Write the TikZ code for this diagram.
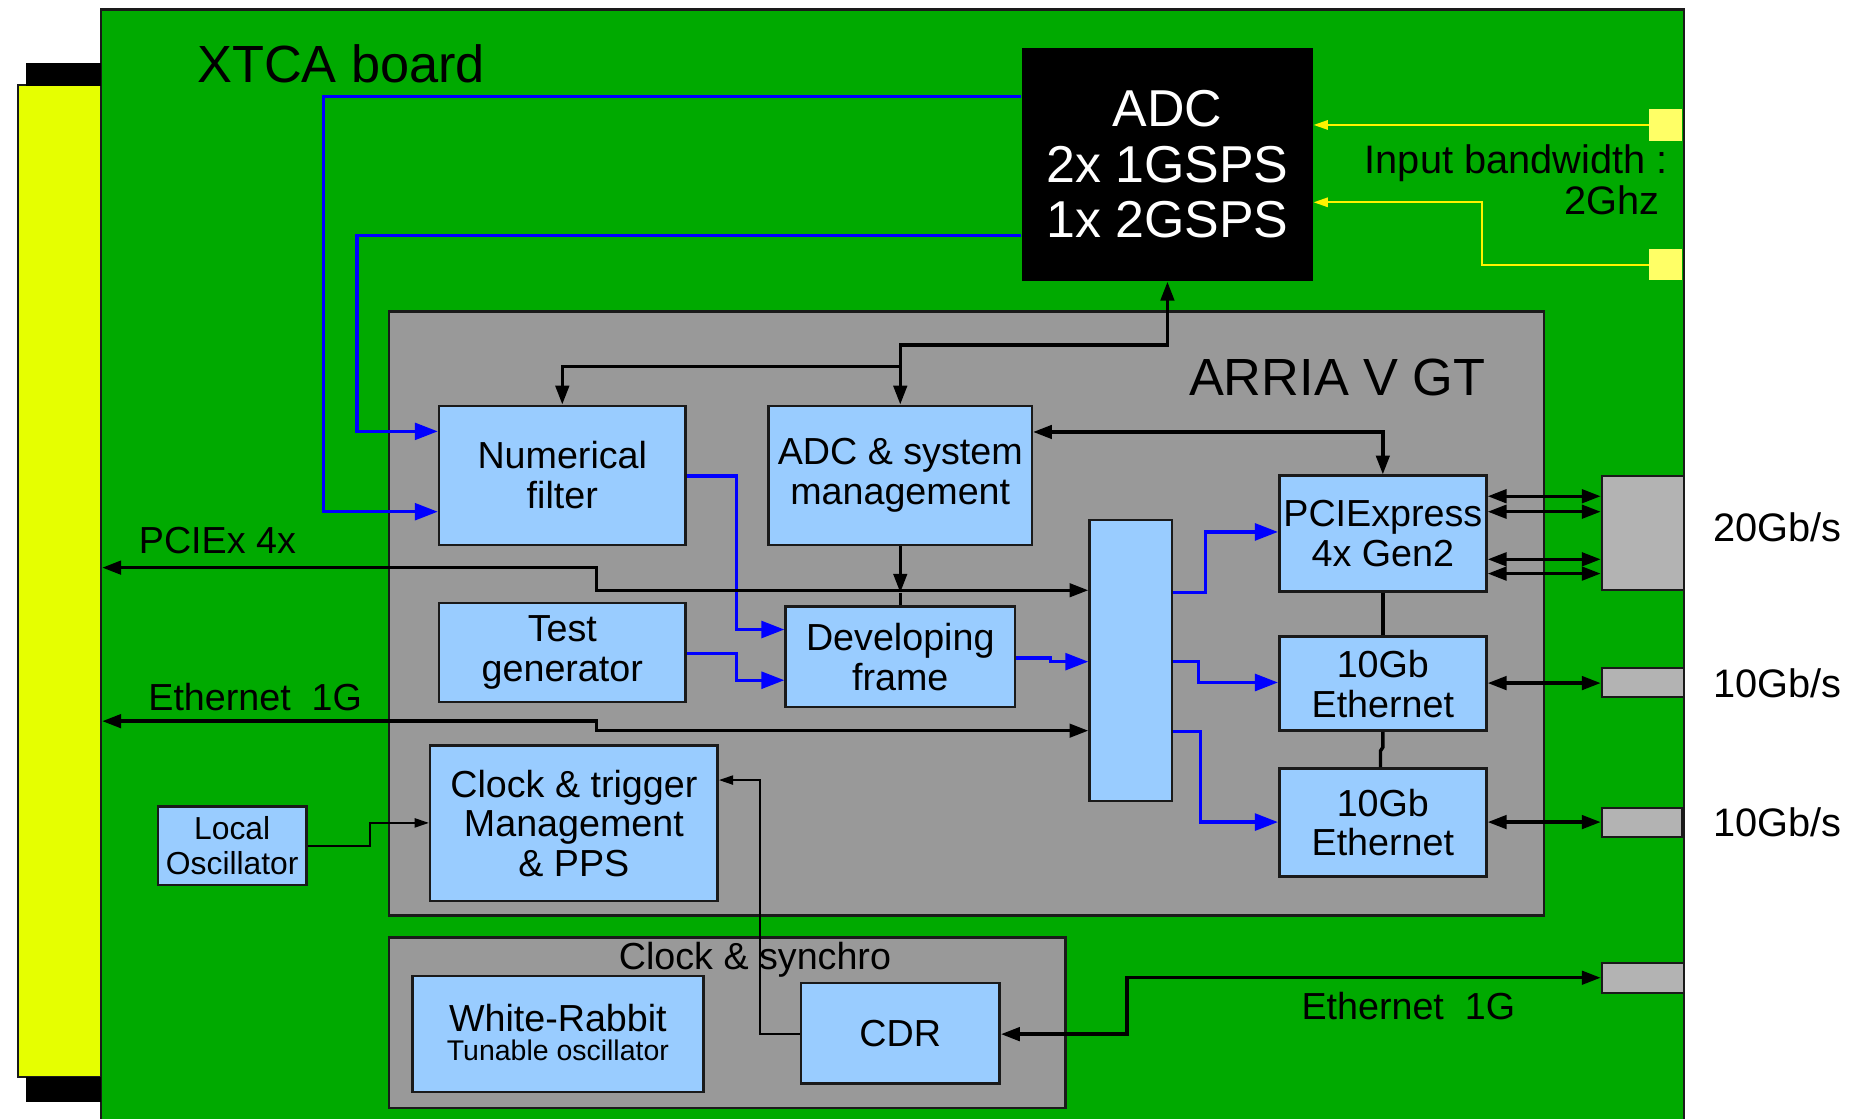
\documentclass[tikz,border=0pt]{standalone}
\usepackage{fontspec}
\setmainfont{Liberation Sans}
\usetikzlibrary{arrows.meta}
\definecolor{boardgreen}{RGB}{0,170,0}
\definecolor{connyellow}{RGB}{230,255,0}
\definecolor{fpgagray}{RGB}{153,153,153}
\definecolor{boxblue}{RGB}{153,204,255}
\definecolor{conngray}{RGB}{179,179,179}
\definecolor{padyellow}{RGB}{255,255,102}
\definecolor{edgecol}{RGB}{26,26,26}
\begin{document}
\begin{tikzpicture}[x=0.01cm,y=-0.01cm,
  box/.style={draw=edgecol, line width=0.6pt, fill=boxblue, inner sep=0pt, align=center, font=\fontsize{9}{9.5}\selectfont},
  container/.style={draw=edgecol, line width=0.6pt, fill=fpgagray, inner sep=0pt},
  connbox/.style={draw=edgecol, line width=0.5pt, fill=conngray, inner sep=0pt},
  padbox/.style={fill=padyellow, inner sep=0pt},
  blk/.style={draw=black, line width=0.8pt, >={Triangle[length=4.5pt,width=3.2pt]}},
  blu/.style={draw=blue, line width=0.8pt, ->, >={Triangle[length=5.5pt,width=4pt]}},
  thinarr/.style={draw=black, line width=0.4pt, ->, >={Triangle[length=3.4pt,width=2.2pt]}},
  ylw/.style={draw=yellow, line width=0.5pt, ->, >={Triangle[length=3.4pt,width=2.2pt]}},
  lbl/.style={font=\fontsize{9}{9.5}\selectfont, inner sep=0pt},
  rate/.style={font=\fontsize{9.5}{10}\selectfont, inner sep=0pt},
  big/.style={font=\fontsize{12.5}{13}\selectfont, inner sep=0pt},
]
\useasboundingbox (0,0) rectangle (1568,940);
\fill[white] (0,0) rectangle (1568,940);

% board
\fill[boardgreen] (85,8) rectangle (1415,940);
\draw[edgecol, line width=0.6pt] (85,940) -- (85,8) -- (1415,8) -- (1415,940);

% backplane connector
\node[draw=edgecol, line width=0.5pt, fill=connyellow, inner sep=0pt, minimum width=0.70cm, minimum height=8.33cm] (yc) at (50,488.5) {};
\node[fill=black, inner sep=0pt, minimum width=0.63cm, minimum height=0.19cm] (capT) at (53.5,62.5) {};
\node[fill=black, inner sep=0pt, minimum width=0.63cm, minimum height=0.21cm] (capB) at (53.5,915.5) {};

% containers
\node[container, minimum width=9.70cm, minimum height=5.07cm] (arria) at (812,515.5) {};
\node[container, minimum width=5.68cm, minimum height=1.43cm] (sync) at (611,859.5) {};

% ADC
\node[fill=black, inner sep=0pt, minimum width=2.44cm, minimum height=1.96cm, text=white, align=center, font=\fontsize{12.4}{13.2}\selectfont] (adc) at (981,138) {ADC\\2x 1GSPS\\1x 2GSPS};

% blocks
\node[box, minimum width=2.07cm, minimum height=1.17cm] (nf) at (472.5,399.5) {Numerical\\filter};
\node[box, minimum width=2.21cm, minimum height=1.17cm] (mgmt) at (756.5,399.5) {ADC \& system\\management};
\node[box, minimum width=2.07cm, minimum height=0.834cm] (tg) at (472.5,548.3) {Test\\generator};
\node[box, minimum width=1.925cm, minimum height=0.843cm] (frame) at (756.5,551.85) {Developing\\frame};
\node[box, minimum width=2.415cm, minimum height=1.303cm] (ct) at (482.25,691.85) {Clock \& trigger\\Management\\\& PPS};
\node[box, minimum width=1.25cm, minimum height=0.66cm, font=\fontsize{7.6}{8.4}\selectfont] (lo) at (195.15,710.8) {Local\\Oscillator};
\node[box, minimum width=0.694cm, minimum height=2.36cm] (sw) at (950.3,555) {};
\node[box, minimum width=1.74cm, minimum height=0.973cm] (pcie) at (1162,448.35) {PCIExpress\\4x Gen2};
\node[box, minimum width=1.74cm, minimum height=0.79cm] (eth1) at (1162,574.5) {10Gb\\Ethernet};
\node[box, minimum width=1.74cm, minimum height=0.91cm] (eth2) at (1162,691.15) {10Gb\\Ethernet};
\node[box, minimum width=2.443cm, minimum height=0.977cm] (wr) at (468.85,868.85) {};
\node[lbl, anchor=base] (wrA) at (468.8,866.5) {White-Rabbit};
\node[lbl, anchor=base, font=\fontsize{6.8}{7}\selectfont] (wrB) at (468.8,891.4) {Tunable oscillator};
\node[box, minimum width=1.67cm, minimum height=0.846cm] (cdr) at (756.5,868.3) {CDR};

% front connectors
\node[connbox, minimum width=0.69cm, minimum height=0.963cm] (bigc) at (1380.5,447.85) {};
\node[connbox, minimum width=0.69cm, minimum height=0.25cm] (c1) at (1380.5,573.5) {};
\node[connbox, minimum width=0.67cm, minimum height=0.244cm] (c2) at (1379.5,690.8) {};
\node[connbox, minimum width=0.69cm, minimum height=0.256cm] (c3) at (1380.5,821.8) {};
\node[padbox, minimum width=0.27cm, minimum height=0.265cm] (p1) at (1399.5,105.25) {};
\node[padbox, minimum width=0.27cm, minimum height=0.26cm] (p2) at (1399.5,222) {};

% labels
\node[big, anchor=base west] (title) at (165,69) {XTCA board};
\node[big, anchor=base east] (arrialbl) at (1249,332.5) {ARRIA V GT};
\node[rate, anchor=base east] (bw1) at (1402,145.6) {Input bandwidth :};
\node[rate, anchor=base east] (bw2) at (1395,180) {2Ghz};
\node[lbl, anchor=base west] (pcielbl) at (116,465) {PCIEx 4x};
\node[lbl, anchor=base west] (ethLlbl) at (124,597) {Ethernet\ \ 1G};
\node[rate, anchor=base west] (r20) at (1439,454.7) {20Gb/s};
\node[rate, anchor=base west] (r10a) at (1439,586) {10Gb/s};
\node[rate, anchor=base west] (r10b) at (1439,702.6) {10Gb/s};
\node[lbl, anchor=base west] (ethRlbl) at (1093,856.7) {Ethernet\ \ 1G};
\node[lbl, anchor=base] (synclbl) at (634.4,815) {Clock \& synchro};

% yellow inputs
\draw[ylw] (p1.west |- 0,105) -- (adc.east |- 0,105);
\draw[ylw] (p2.west |- 0,222.5) -- (1245,222.5) -- (1245,170) -- (adc.east |- 0,170);

% blue data paths
\draw[blu] (adc.west |- 0,81) -- (272,81) -- (272,430) -- (nf.west |- 0,430);
\draw[blu] (adc.west |- 0,198) -- (300,198) -- (300,362.5) -- (nf.west |- 0,362.5);
\draw[blu] (nf.east |- 0,400) -- (619,400) -- (619,529) -- (frame.west |- 0,529);
\draw[blu] (tg.east |- 0,549) -- (619,549) -- (619,571.6) -- (frame.west |- 0,571.6);
\draw[blu] (frame.east |- 0,553) -- (883,553) -- (883,556) -- (sw.west |- 0,556);
\draw[blu] (sw.east |- 0,498) -- (1013,498) -- (1013,447) -- (pcie.west |- 0,447);
\draw[blu] (sw.east |- 0,555.6) -- (1007,555.6) -- (1007,573.5) -- (eth1.west |- 0,573.5);
\draw[blu] (sw.east |- 0,614.7) -- (1009,614.7) -- (1009,690.8) -- (eth2.west |- 0,690.8);

% black control paths
\draw[blk,<->] (mgmt.north) -- (756.5,290) -- (981,290) -- (adc.south);
\draw[blk,->] (756.5,308) -- (472.5,308) -- (nf.north);
\draw[blk,<->] (mgmt.east |- 0,363) -- (1162,363) -- (pcie.north);
\draw[blk,->] (mgmt.south) -- (756.5,498);
\draw[blk] (756.5,498) -- (frame.north);
\draw[blk,<->] (yc.east |- 0,477) -- (501,477) -- (501,496) -- (sw.west |- 0,496);
\draw[blk,<->] (yc.east |- 0,606) -- (501,606) -- (501,614) -- (sw.west |- 0,614);
\foreach \yy in {417,430,470,482}
  \draw[blk,<->] (pcie.east |- 0,\yy) -- (bigc.west |- 0,\yy);
\draw[blk,<->] (eth1.east |- 0,574) -- (c1.west |- 0,574);
\draw[blk,<->] (eth2.east |- 0,690.8) -- (c2.west |- 0,690.8);
\draw[blk] (pcie.south) -- (eth1.north);
\draw[blk] (eth1.south) -- (1162,628) -- (1160,631) -- (eth2.north -| 1160,0);
\draw[blk,<->] (c3.west |- 0,821.6) -- (947,821.6) -- (947,869) -- (cdr.east |- 0,869);

% clock paths
\draw[thinarr] (lo.east |- 0,710.8) -- (311,710.8) -- (311,691.5) -- (ct.west |- 0,691.5);
\draw[thinarr] (cdr.west |- 0,869) -- (638.6,869) -- (638.6,655.5) -- (ct.east |- 0,655.5);
\end{tikzpicture}
\end{document}
